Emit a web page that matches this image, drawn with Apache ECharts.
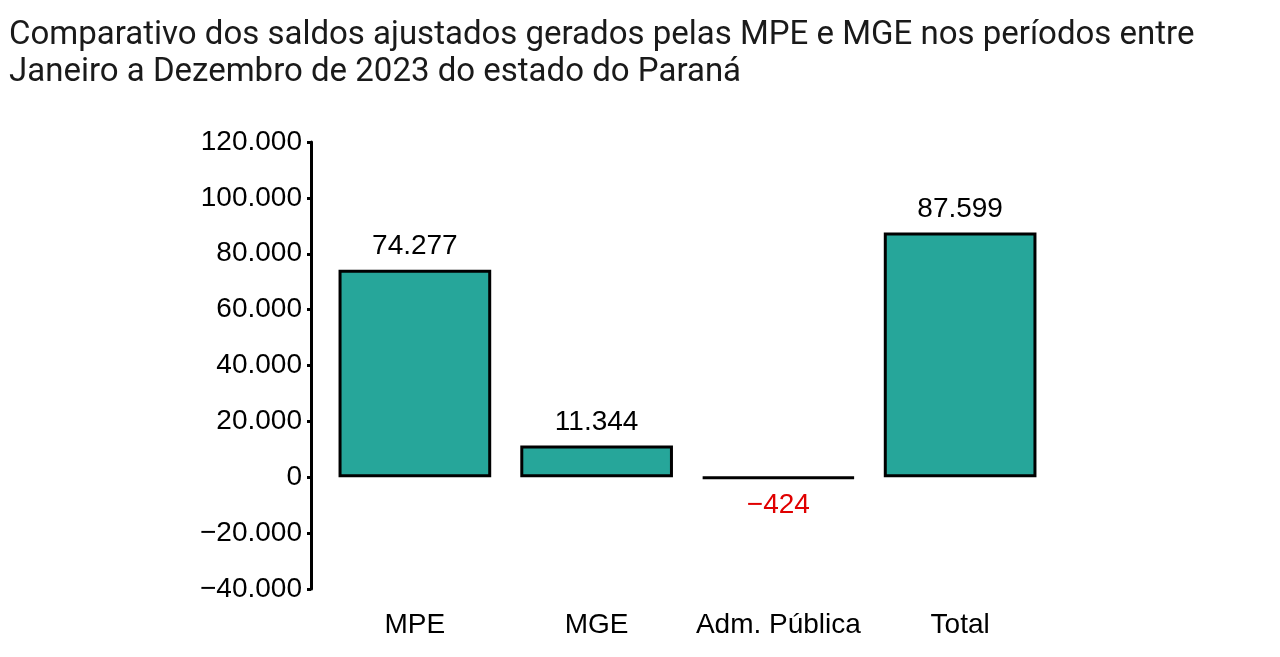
<!DOCTYPE html>
<html>
<head>
<meta charset="utf-8">
<script src="https://cdn.jsdelivr.net/npm/echarts@6/dist/echarts.min.js"></script>
<style>
  html, body { margin: 0; padding: 0; background: #fff; }
  #main { width: 1280px; height: 657px; }
</style>
</head>
<body>
<div id="main"></div>
<script>
var chartDom = document.getElementById("main");
var myChart = echarts.init(chartDom);
var option;

const categories = ["MPE", "MGE", "Adm. Pública", "Total"];
const saldos = [74277, 11344, -424, 87599];
const yTicks = [-40000, -20000, 0, 20000, 40000, 60000, 80000, 100000, 120000];

// 74277 -> "74.277", -424 -> "−424"
const fmt = function (v) {
  var s = Math.abs(v).toString().replace(/\B(?=(\d{3})+(?!\d))/g, ".");
  return (v < 0 ? "\u2212" : "") + s;
};

option = {
  title: {
    text: "Comparativo dos saldos ajustados gerados pelas MPE e MGE nos períodos entre\nJaneiro a Dezembro de 2023 do estado do Paraná",
    left: 4,
    top: 12,
    textStyle: {
      fontFamily: "Roboto",
      fontSize: 33,
      fontWeight: "normal",
      color: "#1a1a1a",
      lineHeight: 37,
    },
  },
  grid: {
    left: 324,
    right: 229,
    top: 142,
    bottom: 68,
  },
  xAxis: {
    type: "category",
    data: categories,
    axisLine: { show: false },
    axisTick: { show: false },
    axisLabel: {
      interval: 0,
      fontFamily: "Liberation Sans",
      fontSize: 28,
      color: "#000",
      margin: 22,
    },
  },
  yAxis: {
    type: "value",
    min: yTicks[0],
    max: yTicks[yTicks.length - 1],
    interval: 20000,
    splitLine: { show: false },
    axisLine: {
      show: true,
      onZero: false,
      lineStyle: { color: "#000", width: 3 },
    },
    axisTick: {
      show: true,
      length: 4,
      lineStyle: { color: "#000", width: 3 },
    },
    axisLabel: {
      fontFamily: "Liberation Sans",
      fontSize: 28,
      color: "#000",
      margin: 9,
      formatter: fmt,
    },
    offset: 13,
  },
  series: [
    {
      type: "bar",
      data: saldos.map(function (v) {
        return {
          value: v,
          label: v < 0 ? { position: "bottom", color: "#e00000", distance: 12 } : {},
        };
      }),
      barWidth: "84%",
      itemStyle: {
        color: "#26a69a",
        borderColor: "#000",
        borderWidth: 3,
      },
      label: {
        show: true,
        position: "top",
        distance: 9,
        fontFamily: "Liberation Sans",
        fontSize: 28,
        color: "#000",
        formatter: function (p) {
          return fmt(p.value);
        },
      },
    },
  ],
};

option && myChart.setOption(option);
</script>
</body>
</html>
